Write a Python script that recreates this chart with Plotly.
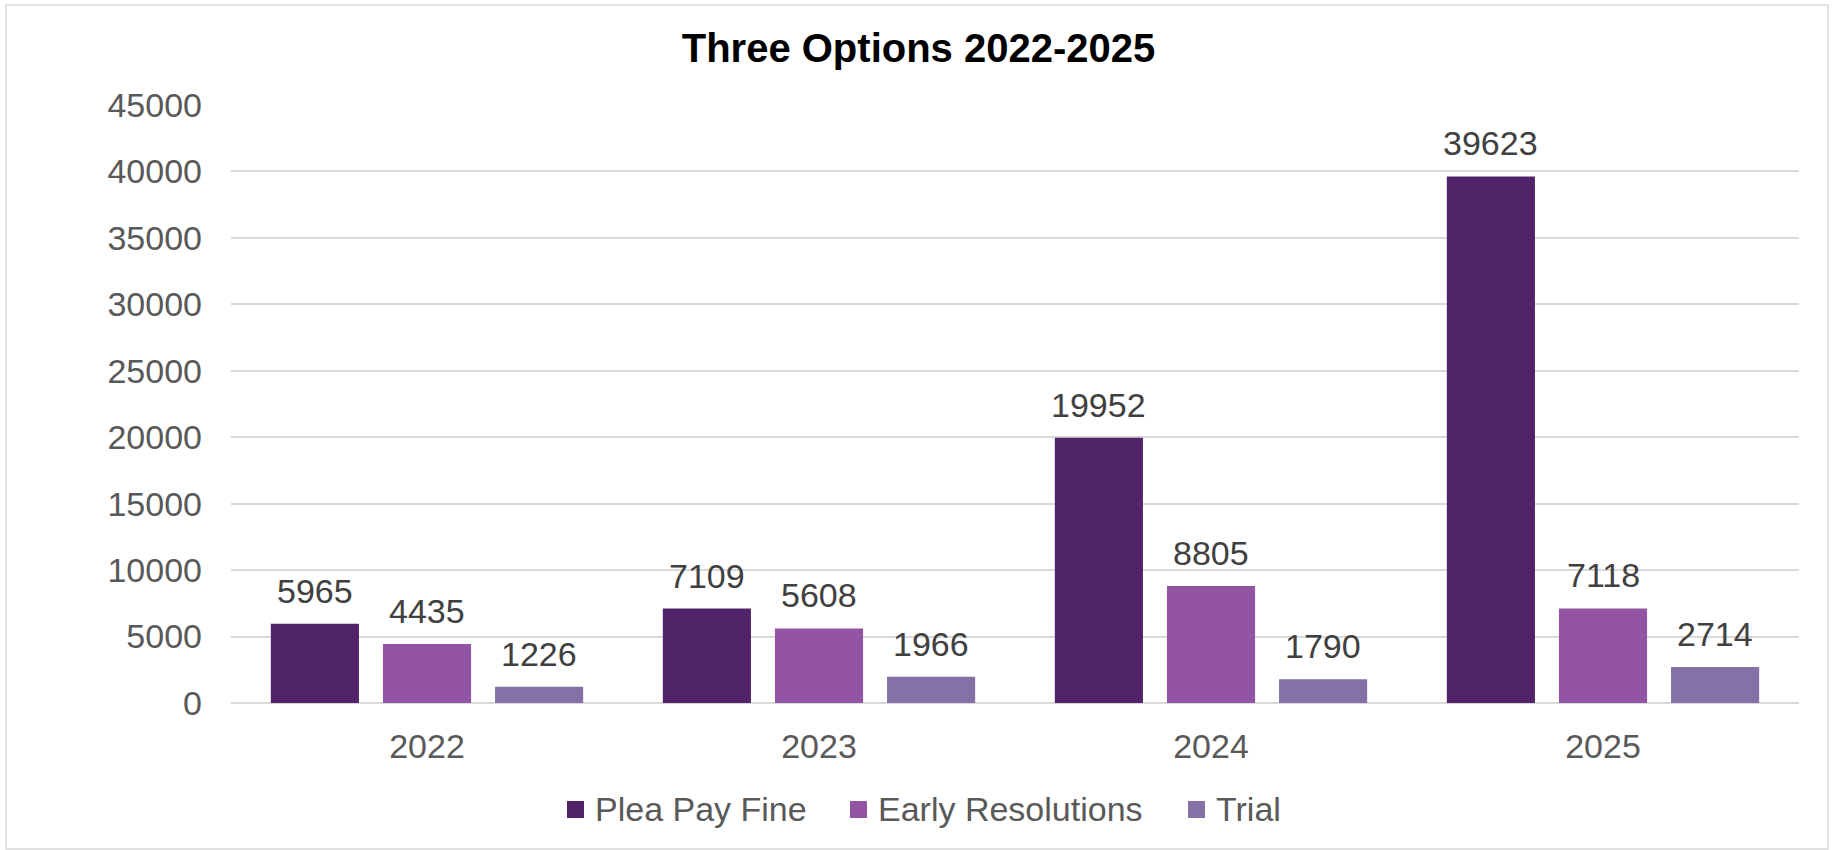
import plotly.graph_objects as go

# ---- data ----
years = ["2022", "2023", "2024", "2025"]
plea_pay_fine = [5965, 7109, 19952, 39623]
early_resolutions = [4435, 5608, 8805, 7118]
trial = [1226, 1966, 1790, 2714]

series_names = ["Plea Pay Fine", "Early Resolutions", "Trial"]
series_values = [plea_pay_fine, early_resolutions, trial]
series_colors = ["#51246A", "#9454A4", "#8571A6"]

y_ticks = [0, 5000, 10000, 15000, 20000, 25000, 30000, 35000, 40000, 45000]
chart_title = "Three Options 2022-2025"

# ---- layout geometry (pixels) ----
W, H = 1837, 850
L, R, T, B = 231, 38, 105, 147
PW = W - L - R
PH = H - T - B
BARGAP = 0.142
BARGROUPGAP = 0.214
SLOT = PW / len(years) * (1 - BARGAP) / len(series_names)

FONT = "Arial, Liberation Sans, sans-serif"
AXIS_GREY = "#595959"
LABEL_GREY = "#404040"
GRID = "#D9D9D9"


def px_x(px):
    return (px - L) / PW


def px_y(py):
    return (H - B - py) / PH


fig = go.Figure()

annotations = []
for i, (name, vals, color) in enumerate(zip(series_names, series_values, series_colors)):
    fig.add_trace(go.Bar(
        x=years, y=vals, name=name,
        marker=dict(color=color, line=dict(width=0)),
        showlegend=False,
    ))
    # value labels above each bar (category axis -> use category index)
    for j, v in enumerate(vals):
        annotations.append(dict(
            x=j, y=v, xref="x", yref="y", text=str(v), showarrow=False,
            xshift=(i - 1) * SLOT, yanchor="bottom", yshift=12,
            font=dict(family=FONT, size=34, color=LABEL_GREY),
        ))

# legend drawn as swatches + text below the axis
legend_x = [567, 850, 1188]
shapes = []
for x0, name, color in zip(legend_x, series_names, series_colors):
    shapes.append(dict(
        type="rect", xref="paper", yref="paper",
        x0=px_x(x0), x1=px_x(x0 + 17), y0=px_y(818), y1=px_y(801),
        fillcolor=color, line=dict(width=0),
    ))
    annotations.append(dict(
        x=px_x(x0 + 26), y=px_y(809), xref="paper", yref="paper",
        text=name, showarrow=False, xanchor="left", yanchor="middle",
        font=dict(family=FONT, size=34, color=AXIS_GREY),
    ))

# outer chart frame
shapes.append(dict(
    type="rect", xref="paper", yref="paper", layer="below",
    x0=px_x(6), x1=px_x(1828), y0=px_y(849), y1=px_y(5),
    line=dict(color=GRID, width=1.5), fillcolor="rgba(0,0,0,0)",
))

fig.update_layout(
    width=W, height=H,
    margin=dict(l=L, r=R, t=T, b=B, pad=0),
    paper_bgcolor="white", plot_bgcolor="white",
    barmode="group", bargap=BARGAP, bargroupgap=BARGROUPGAP,
    title=dict(
        text="<b>" + chart_title + "</b>",
        x=0.5, xref="container", xanchor="center",
        y=1 - 48 / H, yref="container", yanchor="middle",
        font=dict(family=FONT, size=40, color="black"),
    ),
    xaxis=dict(
        type="category", range=[-0.5, len(years) - 0.5],
        showgrid=False, showline=False, ticks="",
        tickfont=dict(family=FONT, size=34, color=AXIS_GREY),
        ticklabelstandoff=20,
    ),
    yaxis=dict(
        range=[0, 45000], tickvals=y_ticks, tickformat="d",
        showline=False, ticks="",
        showgrid=True, gridcolor=GRID, gridwidth=1.5,
        zeroline=True, zerolinecolor=GRID, zerolinewidth=1.5,
        tickfont=dict(family=FONT, size=34, color=AXIS_GREY),
        ticklabelstandoff=28,
    ),
    shapes=shapes,
    annotations=annotations,
    showlegend=False,
)

fig.write_html("out.html")
